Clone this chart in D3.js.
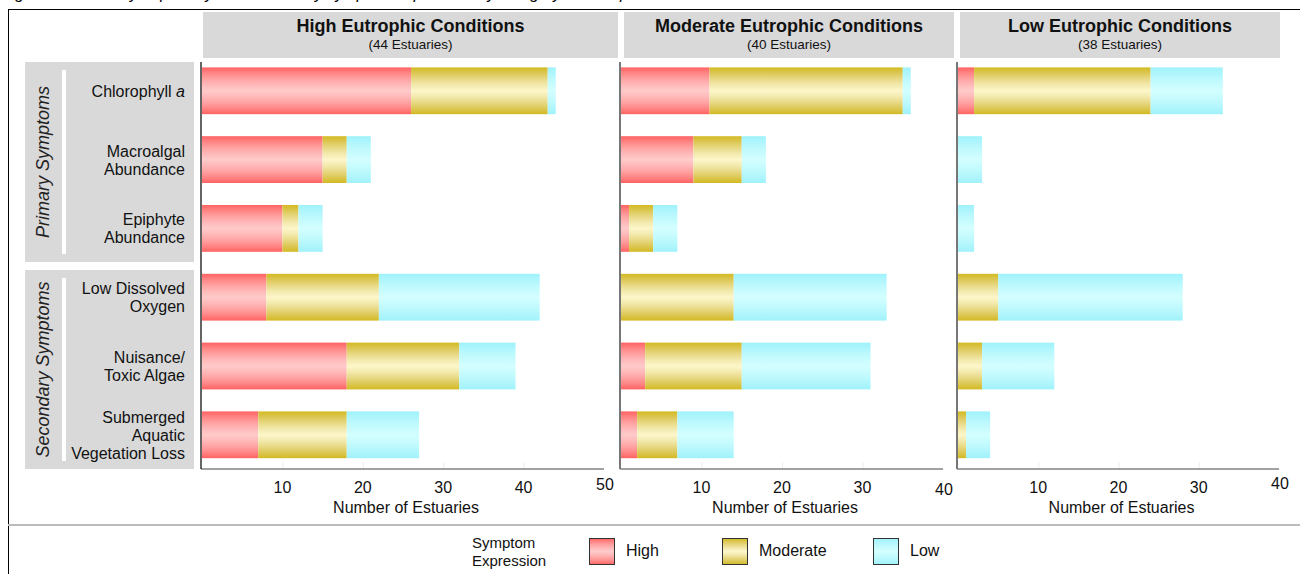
<!DOCTYPE html>
<html>
<head>
<meta charset="utf-8">
<script src="https://d3js.org/d3.v7.min.js"></script>
<style>
  body { margin: 0; background: #fff; }
  svg { display: block; font-family: "Liberation Sans", Arial, sans-serif; }
</style>
</head>
<body>
<div id="vis"></div>
<script>
// ---- data ----
var symptoms = ["Chlorophyll a", "Macroalgal Abundance", "Epiphyte Abundance",
                "Low Dissolved Oxygen", "Nuisance/ Toxic Algae", "Submerged Aquatic Vegetation Loss"];
var symptomLines = [["Chlorophyll a"], ["Macroalgal", "Abundance"], ["Epiphyte", "Abundance"],
                    ["Low Dissolved", "Oxygen"], ["Nuisance/", "Toxic Algae"], ["Submerged", "Aquatic", "Vegetation Loss"]];
var groups = ["Primary Symptoms", "Secondary Symptoms"];
var panelTitles = ["High Eutrophic Conditions", "Moderate Eutrophic Conditions", "Low Eutrophic Conditions"];
var panelCounts = ["(44 Estuaries)", "(40 Estuaries)", "(38 Estuaries)"];
var axisMax = [50, 40, 40];
var tickValues = [10, 20, 30, 40];
var levels = ["High", "Moderate", "Low"];

// estuaries per symptom, one array per panel
var highExpr     = [[26, 15, 10,  8, 18,  7], [11, 9, 1,  0,  3, 2], [2, 0, 0,  0, 0, 0]];
var moderateExpr = [[17,  3,  2, 14, 14, 11], [24, 6, 3, 14, 12, 5], [22, 0, 0,  5, 3, 1]];
var lowExpr      = [[ 1,  3,  3, 20,  7,  9], [ 1, 3, 3, 19, 16, 7], [ 9, 3, 2, 23, 9, 3]];

// ---- layout ----
var W = 1300, H = 574;
var svg = d3.select("#vis").append("svg").attr("width", W).attr("height", H);

var gradStops = {
  High:     ["#ff6262", "#ff8585", "#ffa3a3", "#ffbaba", "#ffcaca"],
  Moderate: ["#d3ba22", "#dcc754", "#e8d985", "#f3eaaf", "#fdf6c9"],
  Low:      ["#a0f2fb", "#aef5fc", "#bdf9fd", "#c9fcfe", "#d4feff"]
};
var defs = svg.append("defs");
levels.forEach(function(l) {
  var g = defs.append("linearGradient").attr("id", "g" + l)
    .attr("x1", 0).attr("y1", 0).attr("x2", 0).attr("y2", 1);
  var s = gradStops[l];
  var offs = [0, 0.12, 0.25, 0.38, 0.5];
  offs.forEach(function(o, i) { g.append("stop").attr("offset", o).attr("stop-color", s[i]); });
  offs.slice(0, 4).reverse().forEach(function(o, i) {
    g.append("stop").attr("offset", 1 - o).attr("stop-color", s[3 - i]);
  });
});

// caption (cut off at the top, as in the source)
svg.append("text").attr("x", 2).attr("y", -1).attr("font-style", "italic").attr("font-size", 16)
  .text("Figure 6. Summary of primary and secondary symptom expression by category of eutrophic condition.");

// outer frame
svg.append("line").attr("x1", 8.5).attr("x2", 8.5).attr("y1", 9).attr("y2", H).attr("stroke", "#000");
svg.append("line").attr("x1", 8).attr("x2", W).attr("y1", 9.5).attr("y2", 9.5).attr("stroke", "#000");

var y = d3.scaleBand().domain(symptoms).range([56.4, 469.2]).paddingInner(0.32).paddingOuter(0.16);

// row strips
var groupBoxes = [[62, 262], [270, 469]];
groupBoxes.forEach(function(b, gi) {
  svg.append("rect").attr("x", 25).attr("y", b[0]).attr("width", 169).attr("height", b[1] - b[0])
    .attr("fill", "#d9d9d9");
  svg.append("rect").attr("x", 62).attr("y", b[0] + 8).attr("width", 4).attr("height", b[1] - b[0] - 16)
    .attr("fill", "#fff");
  var cy = (b[0] + b[1]) / 2;
  svg.append("text").attr("transform", "translate(49," + cy + ") rotate(-90)")
    .attr("text-anchor", "middle").attr("font-style", "italic").attr("font-size", 18).attr("fill", "#222")
    .text(groups[gi]);
});

symptoms.forEach(function(s, i) {
  var lines = symptomLines[i];
  var cy = y(s) + y.bandwidth() / 2;
  var lh = 18;
  var t = svg.append("text").attr("text-anchor", "end").attr("font-size", 16).attr("fill", "#111");
  lines.forEach(function(line, k) {
    var ty = cy + (k - (lines.length - 1) / 2) * lh + 6;
    var ts = t.append("tspan").attr("x", 185).attr("y", ty);
    if (line === "Chlorophyll a") {
      ts.text("Chlorophyll ");
      t.append("tspan").attr("font-style", "italic").text("a");
    } else ts.text(line);
  });
});

// panels
var plotRanges = [[202, 604], [621, 943], [958, 1279]];
var headerRanges = [[203, 618], [624, 954], [960, 1280]];
var axisColors = ["#111", "#777", "#777"];
var endLabelDy = [-3, 2, -4];

panelTitles.forEach(function(title, p) {
  var hr = headerRanges[p];
  var hc = (hr[0] + hr[1]) / 2;
  svg.append("rect").attr("x", hr[0]).attr("y", 12).attr("width", hr[1] - hr[0]).attr("height", 46)
    .attr("fill", "#d9d9d9");
  svg.append("text").attr("x", hc).attr("y", 32).attr("text-anchor", "middle")
    .attr("font-weight", "bold").attr("font-size", 18).attr("fill", "#111").text(title);
  svg.append("text").attr("x", hc).attr("y", 49).attr("text-anchor", "middle")
    .attr("font-size", 13.5).attr("fill", "#111").text(panelCounts[p]);

  var x = d3.scaleLinear().domain([0, axisMax[p]]).range(plotRanges[p]);
  var g = svg.append("g");

  // bars
  symptoms.forEach(function(s, i) {
    var vals = [highExpr[p][i], moderateExpr[p][i], lowExpr[p][i]];
    var acc = 0;
    vals.forEach(function(v, k) {
      if (v <= 0) return;
      g.append("rect").attr("x", x(acc)).attr("y", y(s))
        .attr("width", x(acc + v) - x(acc)).attr("height", y.bandwidth())
        .attr("fill", "url(#g" + levels[k] + ")");
      acc += v;
    });
  });

  // x axis
  var ticks = tickValues.filter(function(t) { return t < axisMax[p]; });
  var ax = svg.append("g").attr("transform", "translate(0,469)")
    .call(d3.axisBottom(x).tickValues(ticks).tickSize(-7).tickFormat(""));
  ax.select(".domain").remove();
  ax.selectAll(".tick line").attr("stroke", "#eee");
  svg.append("line").attr("x1", plotRanges[p][0] - 1).attr("x2", plotRanges[p][1])
    .attr("y1", 469).attr("y2", 469).attr("stroke", "#444");
  ticks.forEach(function(t) {
    svg.append("text").attr("x", x(t)).attr("y", 493).attr("text-anchor", "middle")
      .attr("font-size", 16).attr("fill", "#111").text(t);
  });
  svg.append("text").attr("x", x(axisMax[p]) + 1).attr("y", 493 + endLabelDy[p]).attr("text-anchor", "middle")
    .attr("font-size", 16).attr("fill", "#111").text(axisMax[p]);
  svg.append("text").attr("x", (plotRanges[p][0] + plotRanges[p][1]) / 2 + 3).attr("y", 513)
    .attr("text-anchor", "middle").attr("font-size", 16).attr("fill", "#111").text("Number of Estuaries");

  // y axis line
  svg.append("line").attr("x1", plotRanges[p][0] - 1).attr("x2", plotRanges[p][0] - 1)
    .attr("y1", 62).attr("y2", 469).attr("stroke", axisColors[p]).attr("stroke-width", p ? 2 : 1.3);
});

// legend
svg.append("line").attr("x1", 8).attr("x2", W).attr("y1", 525).attr("y2", 525)
  .attr("stroke", "#bbb").attr("stroke-width", 2);
svg.append("text").attr("x", 472).attr("y", 548).attr("font-size", 15).attr("fill", "#111").text("Symptom");
svg.append("text").attr("x", 472).attr("y", 566).attr("font-size", 15).attr("fill", "#111").text("Expression");
var legendX = [589, 722, 873];
levels.forEach(function(l, k) {
  svg.append("rect").attr("x", legendX[k] + 0.5).attr("y", 538.5).attr("width", 25).attr("height", 26)
    .attr("fill", "url(#g" + l + ")").attr("stroke", "#333");
  svg.append("text").attr("x", legendX[k] + 37).attr("y", 556).attr("font-size", 16).attr("fill", "#111").text(l);
});
</script>
</body>
</html>
